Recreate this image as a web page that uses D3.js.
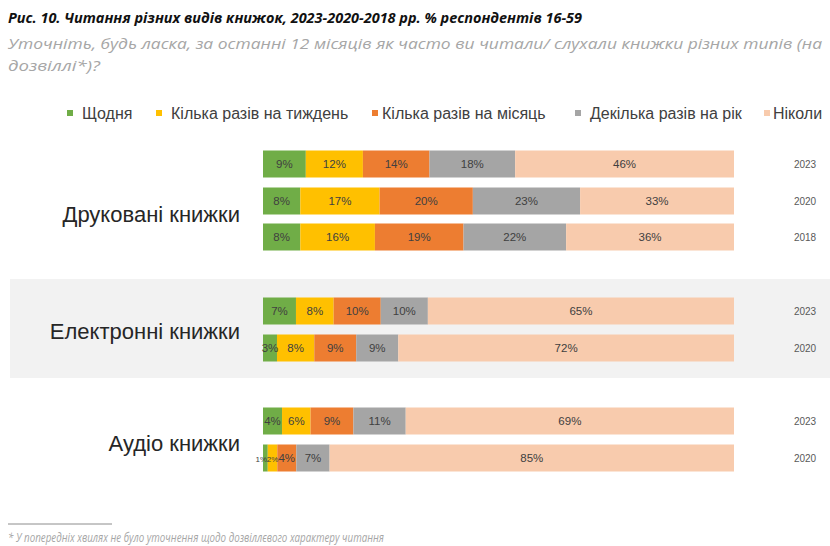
<!DOCTYPE html>
<meta charset="utf-8">
<style>
    body { margin: 0; background: #fff; }
    text { font-family: "Liberation Sans", Arial, sans-serif; }
    .title { font-family: "Open Sans", sans-serif; font-weight: bold; font-style: italic; font-size: 15px; fill: #111; }
    .sub { font-family: "Open Sans", sans-serif; font-style: italic; font-size: 15px; fill: #a6a6a6; }
    .legend text { font-size: 16px; fill: #404040; }
    .group { font-size: 22px; fill: #262626; }
    .val { font-size: 11.5px; fill: #404040; }
    .year { font-size: 10px; fill: #595959; }
</style>

<svg width="830" height="546"></svg>

<script src="https://cdn.jsdelivr.net/npm/d3@7"></script>
<script>
    // категорії частоти
    var keys = ["Щодня", "Кілька разів на тиждень", "Кілька разів на місяць", "Декілька разів на рік", "Ніколи"];
    var colors = ["#70ad47", "#ffc000", "#ed7d31", "#a5a5a5", "#f8cbad"];

    var groups = ["Друковані книжки", "Електронні книжки", "Аудіо книжки"];

    // рядки: група, рік, значення
    var rowGroup = [0, 0, 0, 1, 1, 2, 2];
    var rowYear = ["2023", "2020", "2018", "2023", "2020", "2023", "2020"];
    var rowValues = [
        [9, 12, 14, 18, 46],
        [8, 17, 20, 23, 33],
        [8, 16, 19, 22, 36],
        [7, 8, 10, 10, 65],
        [3, 8, 9, 9, 72],
        [4, 6, 9, 11, 69],
        [1, 2, 4, 7, 85]
    ];
    var rowCenter = [164, 201, 237, 311, 348, 421, 458];

    (function () {
        var svg = d3.select("svg");

        // заголовок
        svg.append("text").attr("class", "title")
            .attr("x", 8).attr("y", 23)
            .attr("textLength", 574).attr("lengthAdjust", "spacingAndGlyphs")
            .text("Рис. 10. Читання різних видів книжок, 2023-2020-2018 рр. % респондентів 16-59");
        svg.append("text").attr("class", "sub")
            .attr("x", 8).attr("y", 49)
            .attr("textLength", 814).attr("lengthAdjust", "spacingAndGlyphs")
            .text("Уточніть, будь ласка, за останні 12 місяців як часто ви читали/ слухали книжки різних типів (на");
        svg.append("text").attr("class", "sub")
            .attr("x", 8).attr("y", 71)
            .attr("textLength", 92).attr("lengthAdjust", "spacingAndGlyphs")
            .text("дозвіллі*)?");

        // сірий фон для електронних книжок
        svg.append("rect")
            .attr("x", 10).attr("y", 279)
            .attr("width", 820).attr("height", 99)
            .attr("fill", "#f2f2f2");

        // легенда
        var legendX = [67, 156, 372, 575, 764];
        var legend = svg.append("g").attr("class", "legend")
            .selectAll("g").data(keys).enter().append("g")
            .attr("transform", function (d, i) { return "translate(" + [legendX[i], 113] + ")"; });
        legend.append("rect")
            .attr("x", 0).attr("y", -3)
            .attr("width", 6).attr("height", 6)
            .attr("fill", function (d, i) { return colors[i]; });
        legend.append("text")
            .attr("x", function (d, i) { return i === 2 ? 10 : (i === 4 ? 9 : 15); })
            .attr("y", 6)
            .text(function (d) { return d; });

        // назви груп
        var groupY = [214, 331, 443];
        svg.append("g").selectAll("text")
            .data(groups).enter().append("text")
            .attr("class", "group")
            .attr("x", 240)
            .attr("y", function (d, i) { return groupY[i] + 8; })
            .attr("text-anchor", "end")
            .text(function (d) { return d; });

        var barH = 27;
        var x0 = 263, x1 = 734;

        var rows = svg.append("g").selectAll("g")
            .data(rowValues).enter().append("g")
            .attr("transform", function (d, i) { return "translate(0," + (rowCenter[i] - barH / 2) + ")"; });

        rows.each(function (vals, r) {
            var total = d3.sum(vals);
            var x = d3.scaleLinear().domain([0, total]).range([x0, x1]);
            var cum = 0;
            var segs = vals.map(function (v, i) {
                var s = { v: v, i: i, start: cum, end: cum + v };
                cum += v;
                return s;
            });
            var g = d3.select(this);
            g.selectAll("rect").data(segs).enter().append("rect")
                .attr("x", function (d) { return x(d.start); })
                .attr("y", 0)
                .attr("width", function (d) { return x(d.end) - x(d.start); })
                .attr("height", barH)
                .attr("fill", function (d) { return colors[d.i]; });
            g.selectAll("text.val").data(segs).enter().append("text")
                .attr("class", "val")
                .attr("x", function (d) {
                    var c = (x(d.start) + x(d.end)) / 2;
                    // вузький перший сегмент — підпис трохи лівіше
                    return (x(d.end) - x(d.start) < 12 && d.i === 0) ? c - 4 : c;
                })
                .attr("y", barH / 2 + 4)
                .attr("text-anchor", "middle")
                .style("font-size", function (d) { return x(d.end) - x(d.start) < 12 ? "8px" : null; })
                .text(function (d) { return d.v + "%"; });
            g.append("text").attr("class", "year")
                .attr("x", 805).attr("y", barH / 2 + 4)
                .attr("text-anchor", "middle")
                .text(rowYear[r]);
        });

        // виноска
        svg.append("line")
            .attr("x1", 8).attr("x2", 112)
            .attr("y1", 524).attr("y2", 524)
            .attr("stroke", "#8c8c8c").attr("stroke-width", 1);
        svg.append("text").attr("class", "sub")
            .attr("x", 8).attr("y", 542)
            .style("font-size", "13px")
            .attr("textLength", 376).attr("lengthAdjust", "spacingAndGlyphs")
            .text("* У попередніх хвилях не було уточнення щодо дозвіллєвого характеру читання");
    })();
</script>
